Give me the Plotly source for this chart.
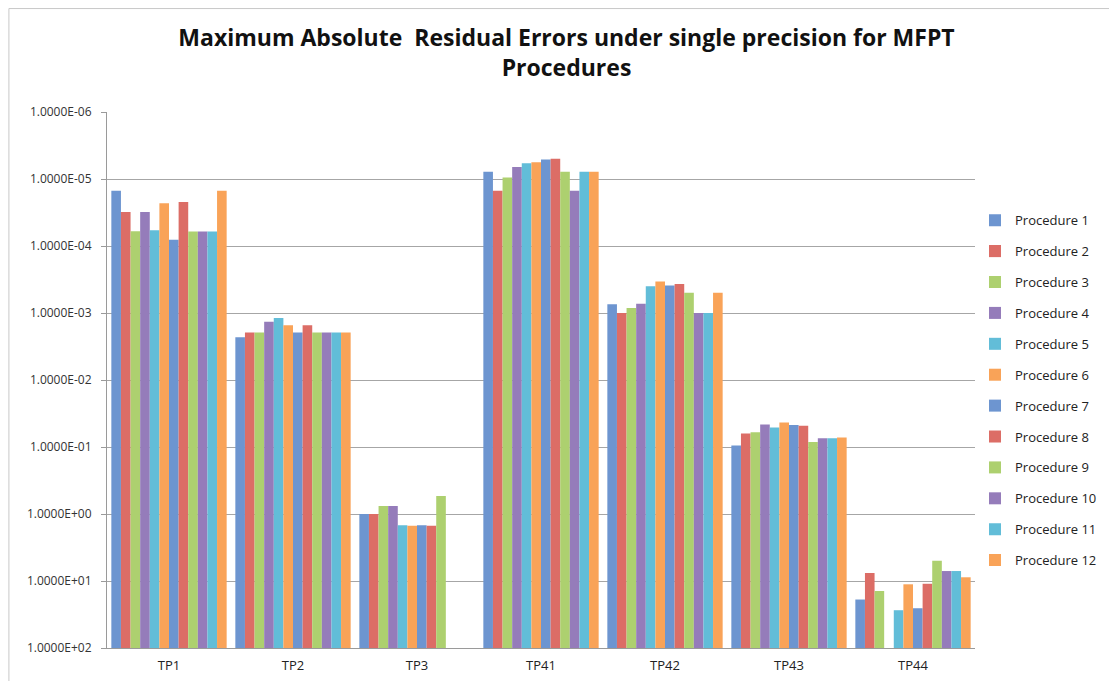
import plotly.graph_objects as go

# test problems on the x axis
categories = ["TP1", "TP2", "TP3", "TP41", "TP42", "TP43", "TP44"]

# maximum absolute residual error per procedure (None = no bar)
proc_1 = [1.5e-5, 2.3e-3, 1.0, 7.8e-6, 7.4e-4, 9.5e-2, 18.9]
proc_2 = [3.1e-5, 1.95e-3, 1.0, 1.5e-5, 1.0e-3, 6.3e-2, 7.6]
proc_3 = [6.0e-5, 1.95e-3, 0.76, 9.5e-6, 8.4e-4, 6.0e-2, 14.1]
proc_4 = [3.1e-5, 1.35e-3, 0.76, 6.6e-6, 7.3e-4, 4.6e-2, None]
proc_5 = [5.8e-5, 1.19e-3, 1.47, 5.8e-6, 4.0e-4, 5.1e-2, 27.3]
proc_6 = [2.3e-5, 1.53e-3, 1.5, 5.6e-6, 3.4e-4, 4.3e-2, 11.2]
proc_7 = [8.1e-5, 1.95e-3, 1.47, 5.1e-6, 3.9e-4, 4.7e-2, 25.5]
proc_8 = [2.2e-5, 1.53e-3, 1.5, 5.0e-6, 3.7e-4, 4.8e-2, 11.0]
proc_9 = [6.1e-5, 1.95e-3, 0.54, 7.8e-6, 5.0e-4, 8.4e-2, 5.0]
proc_10 = [6.1e-5, 1.95e-3, None, 1.5e-5, 1.0e-3, 7.4e-2, 7.1]
proc_11 = [6.1e-5, 1.95e-3, None, 7.8e-6, 1.0e-3, 7.4e-2, 7.1]
proc_12 = [1.5e-5, 1.95e-3, None, 7.8e-6, 5.0e-4, 7.2e-2, 8.8]

series = [proc_1, proc_2, proc_3, proc_4, proc_5, proc_6,
          proc_7, proc_8, proc_9, proc_10, proc_11, proc_12]
names = [f"Procedure {i}" for i in range(1, 13)]

# excel 2010 palette, cycled twice (a bit lighter than the stock colours)
palette = ["#6d95d0", "#dc6d66", "#add06f", "#957cba", "#62bdd8", "#f9a358"]

tick_vals = [1e-6, 1e-5, 1e-4, 1e-3, 1e-2, 1e-1, 1e0, 1e1, 1e2]
tick_text = ["1.0000E-06", "1.0000E-05", "1.0000E-04", "1.0000E-03",
             "1.0000E-02", "1.0000E-01", "1.0000E+00", "1.0000E+01",
             "1.0000E+02"]

BASE = 100  # bars grow up from the bottom of the reversed log axis

fig = go.Figure()
for i, (name, vals) in enumerate(zip(names, series)):
    lengths = [None if v is None else v - BASE for v in vals]
    fig.add_trace(go.Bar(
        x=categories, y=lengths, base=BASE, name=name,
        legendgroup=name,
        customdata=vals,
        hovertemplate="%{x}: %{customdata:.2e}<extra>" + name + "</extra>",
        marker=dict(color=palette[i % 6], line=dict(width=0)),
    ))

# outer chart frame (only the top and left edges fall inside the picture)
fig.add_shape(type="rect", xref="paper", yref="paper",
              x0=-0.113, y0=-0.3, x1=1.4, y1=1.193,
              line=dict(color="#c8c8c8", width=1), layer="below")

fig.update_layout(
    width=1117, height=681,
    paper_bgcolor="white", plot_bgcolor="white",
    font=dict(family="Open Sans, Lato, sans-serif", color="#333333"),
    title=dict(
        text="<b>Maximum Absolute  Residual Errors under single precision for MFPT<br>Procedures</b>",
        x=0.5, xanchor="center", y=0.944, yanchor="top",
        font=dict(size=23, color="#111111"),
    ),
    barmode="group", bargap=0.07, bargroupgap=0,
    margin=dict(l=99, r=150, t=104, b=41),
    legend=dict(
        x=1.0, xanchor="left", y=0.826, yanchor="top",
        font=dict(size=13, color="#222222"),
        tracegroupgap=11, itemwidth=30,
    ),
    showlegend=True,
)

fig.update_xaxes(
    showline=True, linecolor="#9a9a9a", linewidth=1,
    ticks="", tickfont=dict(size=13, color="#222222"),
    ticklabelstandoff=5,
    showgrid=False,
)
fig.update_yaxes(
    type="log", range=[2, -6],
    tickvals=tick_vals, ticktext=tick_text,
    tickfont=dict(size=12, color="#333333"),
    showgrid=True, gridcolor="#a6a6a6", gridwidth=1,
    showline=True, linecolor="#9a9a9a", linewidth=1,
    ticks="outside", ticklen=5, tickcolor="#9a9a9a",
    ticklabelstandoff=7,
    zeroline=False,
)

fig.write_html("out.html")
